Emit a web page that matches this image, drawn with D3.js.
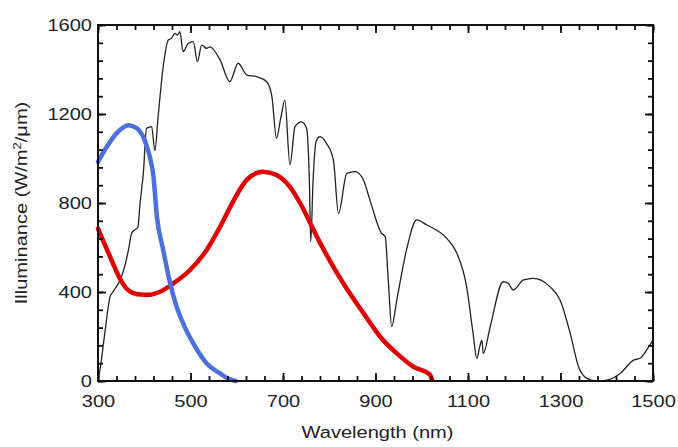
<!DOCTYPE html>
<html>
<head>
<meta charset="utf-8">
<script src="https://cdn.jsdelivr.net/npm/d3@7"></script>
<style>
  html, body { margin: 0; padding: 0; background: #fff; }
  svg { display: block; }
  text { font-family: "Liberation Sans", Arial, sans-serif; fill: #222; }
</style>
</head>
<body>
<svg id="chart" width="678" height="447"></svg>
<script>
// ---- data ----
const solarNm = [300,305,315,326,332,338,347,355,365,373,380,386,391,398,405,410,416,423,430,441,452,459,466,472,477,484,495,506,515,524,535,542,564,585,603,622,643,665,676,686,695,704,715,726,740,751,757,760,765,772,780,794,809,820,838,856,874,888,913,921,928,935,946,967,989,1011,1054,1076,1097,1111,1119,1126,1130,1133,1148,1176,1187,1198,1220,1241,1277,1299,1321,1339,1357,1378,1400,1429,1458,1472,1486,1500];
const solarVal = [0,60,220,378,400,418,450,495,580,665,680,690,800,933,1136,1140,1143,1035,1188,1413,1533,1540,1562,1555,1570,1480,1517,1525,1435,1510,1495,1502,1443,1345,1428,1375,1368,1345,1278,1091,1180,1262,971,1143,1165,1136,900,626,900,1080,1098,1068,993,753,933,941,903,813,664,649,439,244,364,589,724,701,641,574,424,214,102,160,184,124,244,446,439,409,454,461,424,364,214,64,12,0,4,34,94,102,139,184];

const blueNm  = [300,319,340,366,384,402,412,420,427,441,456,470,484,506,535,564,580,598];
const blueVal = [985,1053,1113,1150,1136,1076,1008,918,745,589,439,334,259,169,79,34,12,0];

const redNm  = [300,326,348,362,375,392,412,434,463,499,535,564,593,622,657,686,715,737,760,780,802,838,874,910,946,982,1018,1022];
const redVal = [685,559,458,415,396,389,388,401,439,499,589,693,810,905,941,926,873,800,705,622,538,415,305,199,124,64,27,8];

const xMajorTicks = [300,500,700,900,1100,1300,1500];
const yMajorTicks = [0,400,800,1200,1600];
const xTitle = "Wavelength (nm)";
const yTitleMain = "Illuminance (W/m";
const yTitleSup = "2";
const yTitleEnd = "/\u03bcm)";

// ---- layout ----
const L = 98, R = 653, T = 25, B = 381;
const svg = d3.select("#chart");
const x = d3.scaleLinear().domain([300,1500]).range([L,R]);
const y = d3.scaleLinear().domain([0,1600]).range([B,T]);
const STRETCH = 1.18;

const xMinor = d3.range(300, 1501, 40);
const yMinor = d3.range(0, 1601, 80);

// curves
const mono = d3.line().x(d => x(d[0])).y(d => y(d[1])).curve(d3.curveMonotoneX);

svg.append("path")
  .attr("d", mono(d3.zip(solarNm, solarVal)))
  .attr("fill","none").attr("stroke","#222").attr("stroke-width",1.3)
  .attr("stroke-linejoin","round");

svg.append("path")
  .attr("d", mono(d3.zip(redNm, redVal)))
  .attr("fill","none").attr("stroke","#e00000").attr("stroke-width",4.5)
  .attr("stroke-linecap","round").attr("stroke-linejoin","round");

svg.append("path")
  .attr("d", mono(d3.zip(blueNm, blueVal)))
  .attr("fill","none").attr("stroke","#4d70e0").attr("stroke-width",4.5)
  .attr("stroke-linecap","round").attr("stroke-linejoin","round");

// axes: minor ticks (inward), major ticks (inward, longer)
function styleAxis(g) {
  g.select(".domain").remove();
  g.selectAll(".tick line").attr("stroke","#111").attr("stroke-width",1.8);
}
const MAJ = 8, MIN = 5;
svg.append("g").attr("transform",`translate(0,${B})`)
  .call(d3.axisBottom(x).tickValues(xMinor).tickSize(-MIN).tickFormat("")).call(styleAxis);
svg.append("g").attr("transform",`translate(0,${T})`)
  .call(d3.axisTop(x).tickValues(xMinor).tickSize(-MIN).tickFormat("")).call(styleAxis);
svg.append("g").attr("transform",`translate(${L},0)`)
  .call(d3.axisLeft(y).tickValues(yMinor).tickSize(-MIN).tickFormat("")).call(styleAxis);
svg.append("g").attr("transform",`translate(${R},0)`)
  .call(d3.axisRight(y).tickValues(yMinor).tickSize(-MIN).tickFormat("")).call(styleAxis);

svg.append("g").attr("transform",`translate(0,${T})`)
  .call(d3.axisTop(x).tickValues(xMajorTicks).tickSize(-MAJ).tickFormat("")).call(styleAxis);
svg.append("g").attr("transform",`translate(${R},0)`)
  .call(d3.axisRight(y).tickValues(yMajorTicks).tickSize(-MAJ).tickFormat("")).call(styleAxis);

const gx = svg.append("g").attr("transform",`translate(0,${B})`)
  .call(d3.axisBottom(x).tickValues(xMajorTicks).tickSize(-MAJ).tickPadding(0).tickFormat(d3.format("d")));
styleAxis(gx);
gx.selectAll(".tick text")
  .attr("font-family",null).attr("font-size",null)
  .style("font-size","17px").attr("fill","#222")
  .attr("y", 26).attr("dy", null)
  .attr("transform",`scale(${STRETCH},1)`);

const gy = svg.append("g").attr("transform",`translate(${L},0)`)
  .call(d3.axisLeft(y).tickValues(yMajorTicks).tickSize(-MAJ).tickFormat(d3.format("d")));
styleAxis(gy);
gy.selectAll(".tick text")
  .attr("font-family",null).attr("font-size",null)
  .style("font-size","17px").attr("fill","#222")
  .attr("x", -6/STRETCH).attr("dy","0.35em")
  .attr("transform",`scale(${STRETCH},1)`);

// frame
svg.append("rect").attr("x",L).attr("y",T).attr("width",R-L).attr("height",B-T)
  .attr("fill","none").attr("stroke","#111").attr("stroke-width",2);

// titles
svg.append("text")
  .attr("transform",`translate(${(L+R)/2+2},${438}) scale(${STRETCH},1)`)
  .attr("text-anchor","middle").style("font-size","17px").text(xTitle);

const yt = svg.append("text")
  .attr("transform",`translate(27,${203}) rotate(-90) scale(${STRETCH},1)`)
  .attr("text-anchor","middle").style("font-size","17px");
yt.append("tspan").text(yTitleMain);
yt.append("tspan").attr("dy",-6).style("font-size","11px").text(yTitleSup);
yt.append("tspan").attr("dy",6).text(yTitleEnd);
</script>
</body>
</html>
